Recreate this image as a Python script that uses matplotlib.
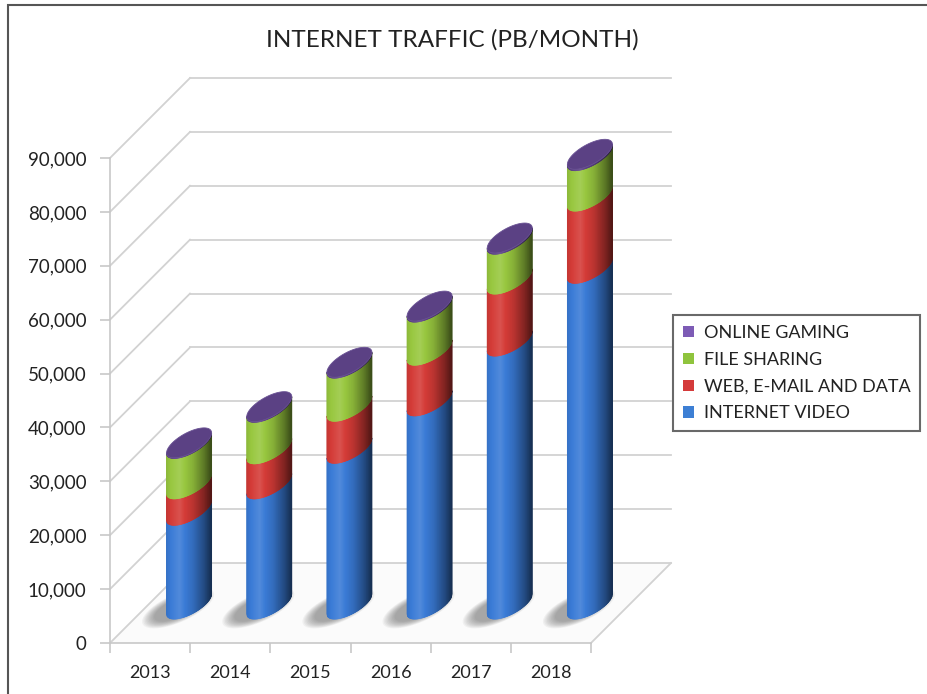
import numpy as np
import matplotlib
matplotlib.use('Agg')
import matplotlib.pyplot as plt
import matplotlib.colors as mcolors
from matplotlib.transforms import IdentityTransform
from matplotlib.collections import PolyCollection
from matplotlib.patches import Polygon, Rectangle, Patch
from matplotlib.lines import Line2D

# --- data (PB / month) ---
years = ['2013', '2014', '2015', '2016', '2017', '2018']
internet_video = [17400, 22300, 28900, 37700, 48800, 62300]
web_email_data = [4900, 6500, 7800, 9400, 11500, 13400]
file_sharing = [7500, 7700, 8000, 8000, 7400, 7500]
online_gaming = [100, 120, 150, 180, 210, 250]
series_names = ['INTERNET VIDEO', 'WEB, E-MAIL AND DATA', 'FILE SHARING', 'ONLINE GAMING']
series_colors = ['#3a7bd6', '#d43b37', '#98c73f', '#5b4184']
legend_colors = ['#3d7fd4', '#d43a3a', '#8fc43d', '#7d5bb5']
y_ticks = np.arange(0, 90001, 10000)

plt.rcParams['font.family'] = ['Lato', 'DejaVu Sans']

W, H = 927, 694
fig = plt.figure(figsize=(W / 100, H / 100), dpi=100)
fig.patch.set_facecolor('white')
ax = fig.add_axes([110 / W, 51 / H, 481 / W, 485 / H])
ax.set_xlim(0, len(years))
ax.set_ylim(0, 90000)
ax.patch.set_alpha(0)
for s in ['top', 'right']:
    ax.spines[s].set_visible(False)
for s in ['left', 'bottom']:
    ax.spines[s].set_color('#c8c8c8')
    ax.spines[s].set_linewidth(1.2)
ax.set_yticks(y_ticks)
ax.set_yticklabels([f'{v:,}' for v in y_ticks])
ax.set_xticks(np.arange(len(years) + 1))
ax.set_xticklabels([])
ax.set_xticks(np.arange(len(years)) + 0.5, minor=True)
ax.set_xticklabels(years, minor=True)
ax.tick_params(axis='both', which='major', length=7, color='#c8c8c8', width=1.2)
ax.tick_params(axis='y', labelsize=13.5, pad=10, labelcolor='#222222')
ax.tick_params(axis='x', which='minor', length=0, pad=16, labelsize=13, labelcolor='#222222')

WALL = 80      # depth of the floor / back wall, px
BAR_D = 39     # depth position of the cylinders, px
ident = IdentityTransform()


def px(x, v):
    return ax.transData.transform((x, v))


# floor + grid
x0, yb = px(0, 0)
x1, yt = px(len(years), 90000)
ax.add_patch(Polygon([(x0, yb), (x1, yb), (x1 + WALL, yb + WALL), (x0 + WALL, yb + WALL)],
                     closed=True, transform=ident, facecolor='#fbfbfb',
                     edgecolor='none', clip_on=False, zorder=0))
grid_kw = dict(transform=ident, color='#d2d2d2', lw=1.3, clip_on=False, zorder=1)
for v in y_ticks:
    gx0, gy = px(0, v)
    gx1, _ = px(len(years), v)
    ax.add_line(Line2D([gx0 + WALL, gx1 + WALL], [gy + WALL, gy + WALL], **grid_kw))
    ax.add_line(Line2D([gx0, gx0 + WALL], [gy, gy + WALL], **grid_kw))
ax.add_line(Line2D([x1, x1 + WALL], [yb, yb + WALL], **grid_kw))

# cylinder geometry (px)
R_, D_ = 16.8, 15.0
HALF = np.hypot(R_, D_)
us = np.linspace(-HALF, HALF, 70)


def front_curve(u):
    a = 1 / R_ ** 2 + 1 / D_ ** 2
    b = -2 * u / R_ ** 2
    c = u ** 2 / R_ ** 2 - 1
    disc = np.clip(b * b - 4 * a * c, 0, None)
    return (-b - np.sqrt(disc)) / (2 * a)


def ellipse(cx, cy, sx=1.0, sy=1.0, n=80):
    th = np.linspace(0, 2 * np.pi, n)
    return np.column_stack([cx + sx * (R_ * np.cos(th) + D_ * np.sin(th)),
                            cy + sy * D_ * np.sin(th)])


def shade(base, t):
    f = np.interp(t, [0, 0.1, 0.3, 0.6, 0.85, 1.0], [0.92, 1.0, 1.08, 0.88, 0.6, 0.38])
    rgb = np.array(mcolors.to_rgb(base))
    if f > 1:
        rgb = rgb + (1 - rgb) * (f - 1) * 1.5
    else:
        rgb = rgb * f
    return np.clip(rgb, 0, 1)


fc = front_curve(us)
stacks = [internet_video, web_email_data, file_sharing, online_gaming]
for i in range(len(years)):
    cx, cy0 = px(i + 0.5, 0)
    cx += BAR_D
    cy0 += BAR_D
    # soft shadow, thrown to the lower left
    for k in range(10):
        s = 1.6 - k * 0.06
        ax.add_patch(Polygon(ellipse(cx - 11, cy0 - 4, s, s * 0.85), closed=True,
                             transform=ident, facecolor='#4a4a4a', alpha=0.06,
                             edgecolor='none', clip_on=False, zorder=2))
    level = 0
    for vals, col in zip(stacks, series_colors):
        lo = px(i + 0.5, level)[1] + BAR_D
        level += vals[i]
        hi = px(i + 0.5, level)[1] + BAR_D
        polys, cols = [], []
        for j in range(len(us) - 1):
            polys.append([(cx + us[j], lo + fc[j]), (cx + us[j + 1], lo + fc[j + 1]),
                          (cx + us[j + 1], hi + fc[j + 1]), (cx + us[j], hi + fc[j])])
            cols.append(shade(col, (j + 0.5) / (len(us) - 1)))
        ax.add_collection(PolyCollection(polys, facecolors=cols, edgecolors=cols,
                                         linewidths=0.6, transform=ident,
                                         clip_on=False, zorder=3), autolim=False)
    top = px(i + 0.5, level)[1] + BAR_D
    ax.add_patch(Polygon(ellipse(cx, top), closed=True, transform=ident,
                         facecolor=series_colors[-1], edgecolor='#6a5294', lw=0.6,
                         clip_on=False, zorder=4))

# title
fig.text(452 / W, 1 - 40 / H, 'INTERNET TRAFFIC (PB/MONTH)', ha='center', va='center',
         fontsize=17.5, color='#222222')

# legend
handles = [Patch(facecolor=c, edgecolor='none') for c in legend_colors[::-1]]
leg = fig.legend(handles, series_names[::-1], loc='upper left',
                 bbox_to_anchor=(673 / W, 1 - 315 / H), frameon=True, fancybox=False,
                 edgecolor='#444444', fontsize=13, handlelength=0.6, handleheight=0.6,
                 handletextpad=0.55, labelspacing=0.6, borderpad=0.55, borderaxespad=0)
leg.get_frame().set_linewidth(1.5)
for t in leg.get_texts():
    t.set_color('#222222')

# outer frame (right and bottom edges fall outside the picture)
fig.add_artist(Rectangle((8 / W, -0.05), 1.0, 1.05 - 5 / H, transform=fig.transFigure,
                         fill=False, edgecolor='#555555', lw=1.5))

fig.savefig('out.png', dpi=100)
